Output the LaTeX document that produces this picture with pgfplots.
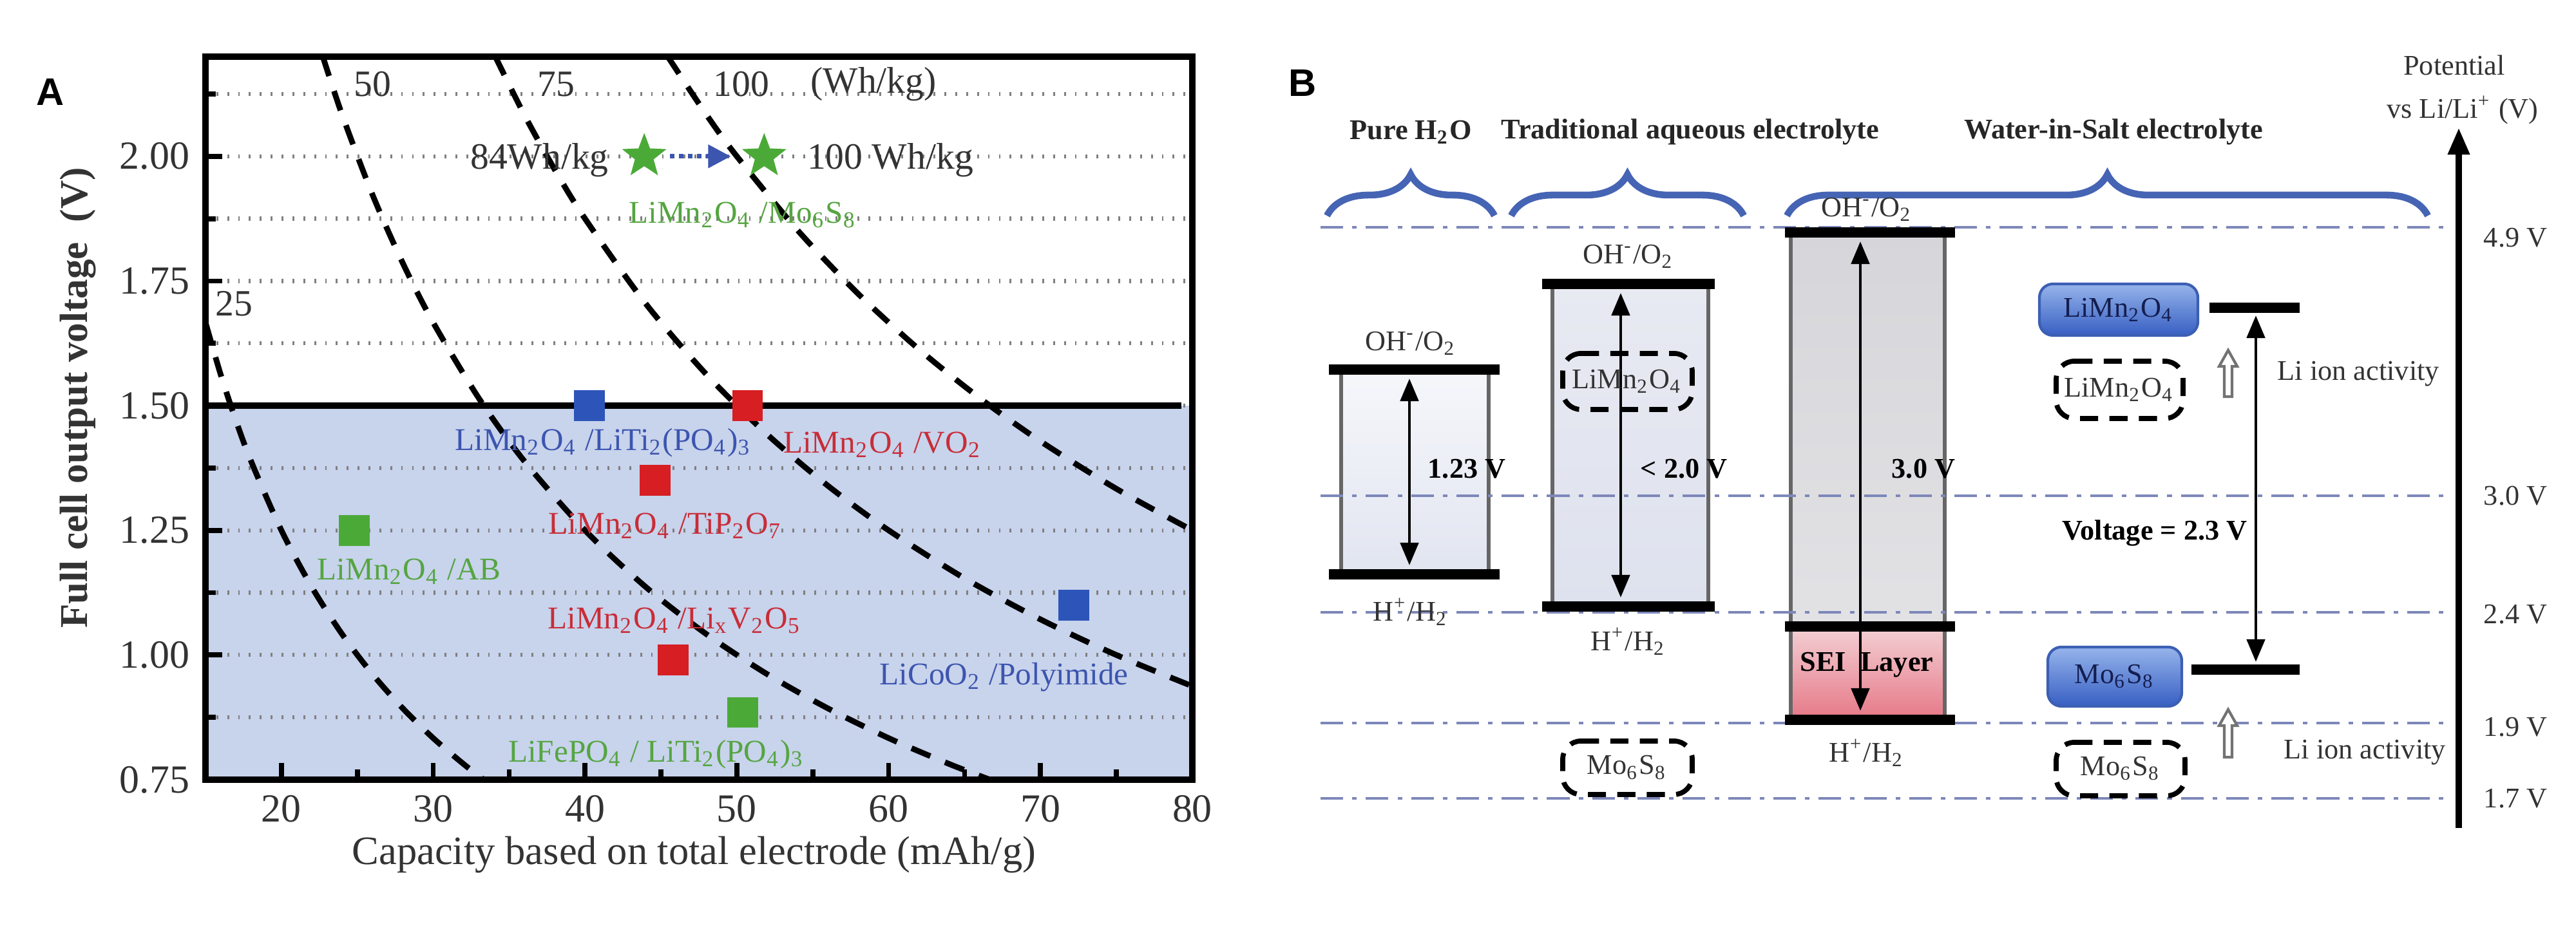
\documentclass[border=0pt]{standalone}
\usepackage{pgfplots}
\pgfplotsset{compat=1.18}
\usepackage{fontspec}
\setmainfont{Liberation Serif}
\newfontfamily\sfb{Liberation Sans}
\usetikzlibrary{arrows.meta,decorations.pathreplacing}

\definecolor{bfill}{RGB}{200,211,236}
\definecolor{mblue}{RGB}{45,85,185}
\definecolor{mred}{RGB}{215,30,35}
\definecolor{mgreen}{RGB}{75,170,55}
\definecolor{tblue}{RGB}{60,85,175}
\definecolor{tred}{RGB}{200,45,55}
\definecolor{tgreen}{RGB}{85,165,65}
\definecolor{bracec}{RGB}{70,100,180}
\definecolor{ddc}{RGB}{125,135,185}
\definecolor{c1top}{RGB}{246,247,251}
\definecolor{c1bot}{RGB}{225,229,240}
\definecolor{c2top}{RGB}{232,234,242}
\definecolor{c2bot}{RGB}{222,226,238}
\definecolor{c3top}{RGB}{214,214,218}
\definecolor{c3bot}{RGB}{226,226,229}
\definecolor{seitop}{RGB}{243,208,212}
\definecolor{seibot}{RGB}{230,120,135}
\definecolor{bxtop}{RGB}{150,180,235}
\definecolor{bxbot}{RGB}{55,95,195}
\definecolor{bxdraw}{RGB}{60,95,180}
\definecolor{navy}{RGB}{20,30,80}

\newcommand{\s}[1]{\textsubscript{#1}}
\newcommand{\su}[1]{\textsuperscript{#1}}
\newcommand{\fA}{\fontsize{7}{8}\selectfont}
\newcommand{\fT}{\fontsize{8.8}{10}\selectfont}
\newcommand{\fC}{\fontsize{8.2}{9.5}\selectfont}
\newcommand{\fB}{\fontsize{6.3}{7.5}\selectfont}

\pgfdeclareplotmark{fstar}{%
 \pgfpathmoveto{\pgfpointpolar{90}{\pgfplotmarksize}}%
 \pgfpathlineto{\pgfpointpolar{126}{0.42\pgfplotmarksize}}%
 \pgfpathlineto{\pgfpointpolar{162}{\pgfplotmarksize}}%
 \pgfpathlineto{\pgfpointpolar{198}{0.42\pgfplotmarksize}}%
 \pgfpathlineto{\pgfpointpolar{234}{\pgfplotmarksize}}%
 \pgfpathlineto{\pgfpointpolar{270}{0.42\pgfplotmarksize}}%
 \pgfpathlineto{\pgfpointpolar{306}{\pgfplotmarksize}}%
 \pgfpathlineto{\pgfpointpolar{342}{0.42\pgfplotmarksize}}%
 \pgfpathlineto{\pgfpointpolar{18}{\pgfplotmarksize}}%
 \pgfpathlineto{\pgfpointpolar{54}{0.42\pgfplotmarksize}}%
 \pgfpathclose\pgfusepathqfillstroke}

\begin{document}
\begin{tikzpicture}

% ---------------- Panel A ----------------
\begin{axis}[
 at={(1.595cm,1.175cm)}, anchor=south west,
 width=7.66cm, height=5.615cm, scale only axis,
 xmin=15, xmax=80, ymin=0.75, ymax=2.2,
 xtick={20,30,40,50,60,70,80},
 xticklabels={20,30,40,50,60,70,80},
 minor xtick={25,35,45,55,65,75},
 ytick={0.75,1,1.25,1.5,1.75,2},
 yticklabels={0.75,1.00,1.25,1.50,1.75,2.00},
 minor ytick={0.875,1.125,1.375,1.625,1.875,2.125},
 ymajorgrids, yminorgrids,
 major grid style={black!50, dotted, line width=0.9pt},
 minor grid style={black!50, dotted, line width=0.9pt},
 tick pos=left, tick align=inside,
 major tick length=0.13cm, minor tick length=0.08cm,
 every tick/.style={black, line width=1.1pt},
 axis line style={line width=1.5pt},
 tick label style={font=\fT, black!80},
 xlabel={Capacity based on total electrode (mAh/g)},
 ylabel={\textbf{Full cell output voltage\ \ (V)}},
 xlabel style={font=\fontsize{8.9}{10}\selectfont, black!80, at={(rel axis cs:0.495,-0.104)}, anchor=center},
 ylabel style={font=\fontsize{8.7}{10}\selectfont, black!80, at={(rel axis cs:-0.129,0.528)}, anchor=center},
 set layers, clip=false,
]
\addplot[fill=bfill, draw=none, on layer=axis background] coordinates {(15,0.75) (80,0.75) (80,1.5) (15,1.5)} -- cycle;
\addplot[black, line width=1.5pt] coordinates {(15,1.5) (79.3,1.5)};

% iso-energy curves (Wh/kg)
\addplot[black, line width=1.25pt, dash pattern=on 4.5pt off 3.5pt, smooth] coordinates {
 (15,1.667) (16,1.5625) (17,1.4706) (18,1.3889) (20,1.25) (22,1.1364) (24,1.0417) (26,0.9615) (28,0.8929) (30,0.8333) (32,0.7813) (33.33,0.75)};
\addplot[black, line width=1.25pt, dash pattern=on 4.5pt off 3.5pt, smooth] coordinates {
 (22.73,2.2) (24,2.0833) (26,1.9231) (28,1.7857) (30,1.6667) (33,1.5152) (36,1.3889) (40,1.25) (44,1.1364) (48,1.0417) (52,0.9615) (56,0.8929) (60,0.8333) (64,0.7813) (66.67,0.75)};
\addplot[black, line width=1.25pt, dash pattern=on 4.5pt off 3.5pt, smooth] coordinates {
 (34.09,2.2) (36,2.0833) (38,1.9737) (40,1.875) (44,1.7045) (48,1.5625) (52,1.4423) (56,1.3393) (60,1.25) (65,1.1538) (70,1.0714) (75,1.0) (80,0.9375)};
\addplot[black, line width=1.25pt, dash pattern=on 4.5pt off 3.5pt, smooth] coordinates {
 (45.45,2.2) (48,2.0833) (50,2.0) (54,1.8519) (58,1.7241) (62,1.6129) (66,1.5152) (70,1.4286) (75,1.3333) (80,1.25)};

\node[font=\fC, black!80] at (axis cs:16.9,1.705) {25};
\node[font=\fC, black!80] at (axis cs:26.0,2.145) {50};
\node[font=\fC, black!80] at (axis cs:38.1,2.145) {75};
\node[font=\fC, black!80] at (axis cs:50.3,2.145) {100};
\node[font=\fC, black!80] at (axis cs:59.0,2.145) {(Wh/kg)};

% stars + arrow
\addplot[tblue, densely dotted, line width=1pt, -{Triangle[length=5pt,width=5pt]}] coordinates {(45.6,2.0) (49.6,2.0)};
\addplot[only marks, mark=fstar, mark size=4.6pt, mgreen] coordinates {(43.9,2.0) (51.8,2.0)};
\node[font=\fC, black!80] at (axis cs:37.0,1.993) {84Wh/kg};
\node[font=\fC, black!80] at (axis cs:60.1,1.993) {100 Wh/kg};
\node[font=\fA, tgreen] at (axis cs:50.4,1.883) {LiMn\s2O\s4 /Mo\s6S\s8};

% data squares
\addplot[only marks, mark=square*, mark size=3.2pt, mblue] coordinates {(40.3,1.5) (72.2,1.1)};
\addplot[only marks, mark=square*, mark size=3.2pt, mred] coordinates {(50.7,1.5) (44.6,1.35) (45.8,0.99)};
\addplot[only marks, mark=square*, mark size=3.2pt, mgreen] coordinates {(24.8,1.25) (50.4,0.885)};

\node[font=\fA, tblue] at (axis cs:41.2,1.426) {LiMn\s2O\s4 /LiTi\s2(PO\s4)\s3};
\node[font=\fA, tred] at (axis cs:59.6,1.422) {LiMn\s2O\s4 /VO\s2};
\node[font=\fA, tred] at (axis cs:45.3,1.259) {LiMn\s2O\s4 /TiP\s2O\s7};
\node[font=\fA, tgreen] at (axis cs:28.4,1.167) {LiMn\s2O\s4 /AB};
\node[font=\fA, tred] at (axis cs:45.9,1.069) {LiMn\s2O\s4 /Li\s{x}V\s2O\s5};
\node[font=\fA, tblue] at (axis cs:67.6,0.956) {LiCoO\s2 /Polyimide};
\node[font=\fA, tgreen] at (axis cs:44.7,0.801) {LiFePO\s4 / LiTi\s2(PO\s4)\s3};

\node[font=\sfb\bfseries\fontsize{8.5}{10}\selectfont] at (rel axis cs:-0.157,0.951) {A};
\end{axis}

% ---------------- Panel B ----------------
\begin{axis}[
 at={(9.995cm,0cm)}, anchor=south west,
 width=10cm, height=7.23cm, scale only axis,
 xmin=0, xmax=2000, ymin=0, ymax=1446, y dir=reverse,
 hide axis, clip=false,
]
% column boxes
\addplot[draw=black!60, line width=0.8pt, top color=c1top, bottom color=c1bot] coordinates {(83,574) (312,574) (312,892) (83,892)} -- cycle;
\addplot[draw=black!60, line width=0.8pt, top color=c2top, bottom color=c2bot] coordinates {(411,441) (653,441) (653,942) (411,942)} -- cycle;
\addplot[draw=black!60, line width=0.8pt, top color=c3top, bottom color=c3bot] coordinates {(781,361) (1020,361) (1020,973) (781,973)} -- cycle;
\addplot[draw=black!60, line width=0.8pt, top color=seitop, bottom color=seibot] coordinates {(781,973) (1020,973) (1020,1118) (781,1118)} -- cycle;

% dash-dot potential lines
\addplot[ddc, line width=0.7pt, dash pattern=on 5pt off 2pt on 1pt off 2pt] coordinates {(51,353) (1805,353)};
\addplot[ddc, line width=0.7pt, dash pattern=on 5pt off 2pt on 1pt off 2pt] coordinates {(51,770) (1805,770)};
\addplot[ddc, line width=0.7pt, dash pattern=on 5pt off 2pt on 1pt off 2pt] coordinates {(51,951) (1805,951)};
\addplot[ddc, line width=0.7pt, dash pattern=on 5pt off 2pt on 1pt off 2pt] coordinates {(51,1123) (1805,1123)};
\addplot[ddc, line width=0.7pt, dash pattern=on 5pt off 2pt on 1pt off 2pt] coordinates {(51,1240) (1805,1240)};

% bars
\addplot[black, line width=2.2pt] coordinates {(64,574) (329,574)};
\addplot[black, line width=2.2pt] coordinates {(64,892) (329,892)};
\addplot[black, line width=2.2pt] coordinates {(395,441) (663,441)};
\addplot[black, line width=2.2pt] coordinates {(395,942) (663,942)};
\addplot[black, line width=2.2pt] coordinates {(772,361) (1036,361)};
\addplot[black, line width=2.2pt] coordinates {(772,973) (1036,973)};
\addplot[black, line width=2.2pt] coordinates {(772,1118) (1036,1118)};
\addplot[black, line width=2.2pt] coordinates {(1431,478) (1571,478)};
\addplot[black, line width=2.2pt] coordinates {(1403,1040) (1571,1040)};

% double arrows
\addplot[black, line width=0.7pt, {Triangle[length=5pt,width=4pt]}-{Triangle[length=5pt,width=4pt]}] coordinates {(189,588) (189,878)};
\addplot[black, line width=0.7pt, {Triangle[length=5pt,width=4pt]}-{Triangle[length=5pt,width=4pt]}] coordinates {(517,455) (517,928)};
\addplot[black, line width=0.7pt, {Triangle[length=5pt,width=4pt]}-{Triangle[length=5pt,width=4pt]}] coordinates {(889,375) (889,1104)};
\addplot[black, line width=0.7pt, {Triangle[length=5pt,width=4pt]}-{Triangle[length=5pt,width=4pt]}] coordinates {(1503,490) (1503,1028)};

% dashed boxes
\addplot[black, line width=1.1pt, dash pattern=on 4pt off 2.5pt, rounded corners=4pt] coordinates {(427,549) (628,549) (628,636) (427,636)} -- cycle;
\addplot[black, line width=1.1pt, dash pattern=on 4pt off 2.5pt, rounded corners=4pt] coordinates {(427,1151) (628,1151) (628,1234) (427,1234)} -- cycle;
\addplot[black, line width=1.1pt, dash pattern=on 4pt off 2.5pt, rounded corners=4pt] coordinates {(1193,561) (1390,561) (1390,650) (1193,650)} -- cycle;
\addplot[black, line width=1.1pt, dash pattern=on 4pt off 2.5pt, rounded corners=4pt] coordinates {(1193,1153) (1393,1153) (1393,1236) (1193,1236)} -- cycle;

% blue boxes
\addplot[draw=bxdraw, line width=0.6pt, rounded corners=3pt, top color=bxtop, bottom color=bxbot] coordinates {(1167,441) (1413,441) (1413,521) (1167,521)} -- cycle;
\addplot[draw=bxdraw, line width=0.6pt, rounded corners=3pt, top color=bxtop, bottom color=bxbot] coordinates {(1180,1005) (1388,1005) (1388,1097) (1180,1097)} -- cycle;

% hollow arrows
\addplot[draw=black!55, fill=white, line width=0.6pt] coordinates {(1454,616) (1454,569) (1446,569) (1460,544) (1474,569) (1466,569) (1466,616)} -- cycle;
\addplot[draw=black!55, fill=white, line width=0.6pt] coordinates {(1454,1176) (1454,1127) (1446,1127) (1460,1102) (1474,1127) (1466,1127) (1466,1176)} -- cycle;

% braces
\addplot[bracec, line width=1.5pt, decorate, decoration={brace, amplitude=0.32cm}] coordinates {(61,335) (321,335)};
\addplot[bracec, line width=1.5pt, decorate, decoration={brace, amplitude=0.32cm}] coordinates {(347,335) (708,335)};
\addplot[bracec, line width=1.5pt, decorate, decoration={brace, amplitude=0.32cm}] coordinates {(775,335) (1770,335)};

% potential axis
\addplot[black, line width=1.5pt, -{Triangle[length=6pt,width=4.5pt]}] coordinates {(1818,1286) (1818,198)};

% texts
\node[font=\sfb\bfseries\fontsize{8.5}{10}\selectfont] at (axis cs:23,129) {B};
\node[font=\fB\bfseries, black!85] at (axis cs:191,205) {Pure H\s2O};
\node[font=\fB\bfseries, black!85] at (axis cs:625,205) {Traditional aqueous electrolyte};
\node[font=\fB\bfseries, black!85] at (axis cs:1282,205) {Water-in-Salt electrolyte};

\node[font=\fB, black!80] at (axis cs:191,533) {OH\su{-}/O\s2};
\node[font=\fB, black!80] at (axis cs:529,398) {OH\su{-}/O\s2};
\node[font=\fB, black!80] at (axis cs:899,325) {OH\su{-}/O\s2};
\node[font=\fB, black!80] at (axis cs:191,950) {H\su{+}/H\s2};
\node[font=\fB, black!80] at (axis cs:529,996) {H\su{+}/H\s2};
\node[font=\fB, black!80] at (axis cs:899,1169) {H\su{+}/H\s2};

\node[font=\fB\bfseries, anchor=west] at (axis cs:193,728) {1.23 V};
\node[font=\fB\bfseries, anchor=west] at (axis cs:523,728) {< 2.0 V};
\node[font=\fB\bfseries, anchor=west] at (axis cs:913,728) {3.0 V};
\node[font=\fB\bfseries] at (axis cs:899,1033) {SEI\ \ Layer};
\node[font=\fB\bfseries] at (axis cs:1346,828) {Voltage = 2.3 V};

\node[font=\fB, black!80] at (axis cs:527,592) {LiMn\s2O\s4};
\node[font=\fB, black!80] at (axis cs:527,1192) {Mo\s6S\s8};
\node[font=\fB, black!80] at (axis cs:1291,605) {LiMn\s2O\s4};
\node[font=\fB, black!80] at (axis cs:1293,1194) {Mo\s6S\s8};
\node[font=\fB, navy] at (axis cs:1290,481) {LiMn\s2O\s4};
\node[font=\fB, navy] at (axis cs:1284,1051) {Mo\s6S\s8};

\node[font=\fB, black!80, anchor=west] at (axis cs:1512,581) {Li ion activity};
\node[font=\fB, black!80, anchor=west] at (axis cs:1522,1169) {Li ion activity};

\node[font=\fB, black!80] at (axis cs:1811,101) {Potential};
\node[font=\fB, black!80] at (axis cs:1824,171) {vs Li/Li\su{+} (V)};
\node[font=\fB, black!80, anchor=west] at (axis cs:1832,369) {4.9 V};
\node[font=\fB, black!80, anchor=west] at (axis cs:1832,770) {3.0 V};
\node[font=\fB, black!80, anchor=west] at (axis cs:1832,954) {2.4 V};
\node[font=\fB, black!80, anchor=west] at (axis cs:1832,1129) {1.9 V};
\node[font=\fB, black!80, anchor=west] at (axis cs:1832,1240) {1.7 V};
\end{axis}
\path (0,0) rectangle (19.995cm,7.23cm);
\end{tikzpicture}
\end{document}
